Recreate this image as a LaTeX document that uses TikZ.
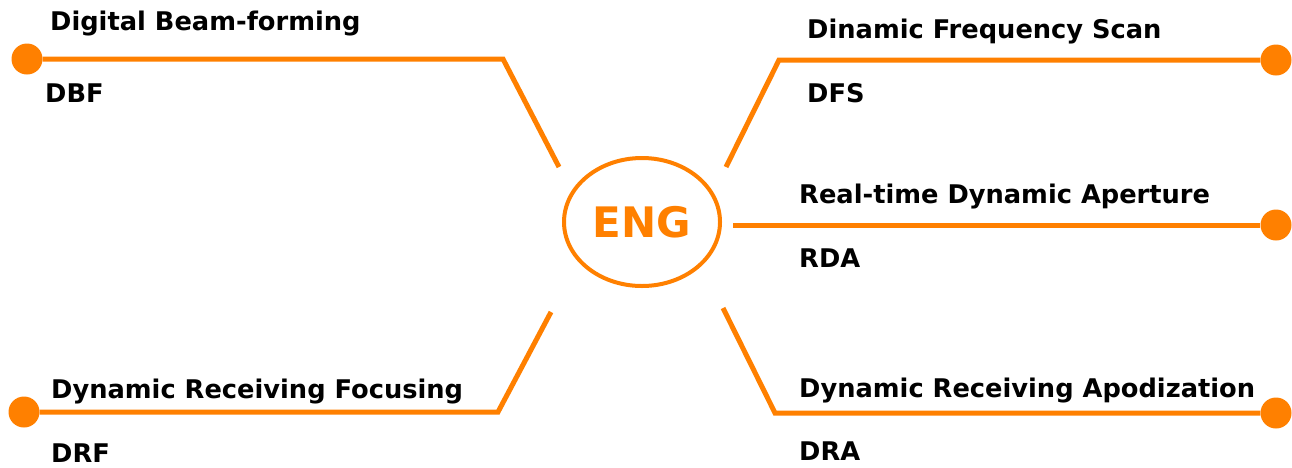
\documentclass[tikz,border=0pt]{standalone}
\usepackage{fontspec}
\setmainfont{DejaVu Sans}
\usetikzlibrary{shapes.geometric}
\definecolor{brorange}{HTML}{FF8000}
\tikzset{
  branch/.style={draw=brorange, line width=5pt, line join=miter},
  enddot/.style={circle, fill=brorange, minimum size=31pt, inner sep=0pt},
  lbl/.style={anchor=base west, inner sep=0pt, font=\bfseries\fontsize{25.7pt}{30pt}\selectfont, text=black},
  hub/.style={ellipse, draw=brorange, line width=4pt, minimum width=156pt, minimum height=128pt, inner sep=0pt,
              text=brorange, font=\bfseries\fontsize{42pt}{48pt}\selectfont}
}
\begin{document}
\begin{tikzpicture}[x=1pt,y=-1pt]
\useasboundingbox (0,0) rectangle (1292,467);
\fill[white] (0,0) rectangle (1292,467);
% hub
\node[hub] (eng) at (642,222) {ENG};
% dots
\node[enddot] (dbf) at (27,59) {};
\node[enddot] (dfs) at (1276,60) {};
\node[enddot] (rda) at (1276,225) {};
\node[enddot] (dra) at (1276,413) {};
\node[enddot] (drf) at (24,412) {};
% corners and inner ends
\coordinate (dbfc) at (503,59);
\coordinate (dbfs) at (559,167);
\coordinate (dfsc) at (779,61);
\coordinate (dfss) at (726,167);
\coordinate (rdas) at (733,226);
\coordinate (drac) at (775,413);
\coordinate (dras) at (723,308);
\coordinate (drfc) at (498,416);
\coordinate (drfs) at (551,312);
% connectors
\draw[branch] (dbf) -- (dbf.center -| dbfc) -- (dbfs);
\draw[branch] (dfs) -- (dfs.center -| dfsc) -- (dfss);
\draw[branch] (rda) -- (rda.center -| rdas);
\draw[branch] (dra) -- (dra.center -| drac) -- (dras);
\draw[branch] (drf) -- (drf.center -| drfc) -- (drfs);
% labels
\node[lbl] (t1) at (50,30) {Digital Beam-forming};
\node[lbl] (a1) at (45,102) {DBF};
\node[lbl] (t2) at (807,38) {Dinamic Frequency Scan};
\node[lbl] (a2) at (807,102) {DFS};
\node[lbl] (t3) at (799,203) {Real-time Dynamic Aperture};
\node[lbl] (a3) at (799,267) {RDA};
\node[lbl] (t4) at (799,397) {Dynamic Receiving Apodization};
\node[lbl] (a4) at (799,460) {DRA};
\node[lbl] (t5) at (51,398) {Dynamic Receiving Focusing};
\node[lbl] (a5) at (51,462) {DRF};
\end{tikzpicture}
\end{document}
